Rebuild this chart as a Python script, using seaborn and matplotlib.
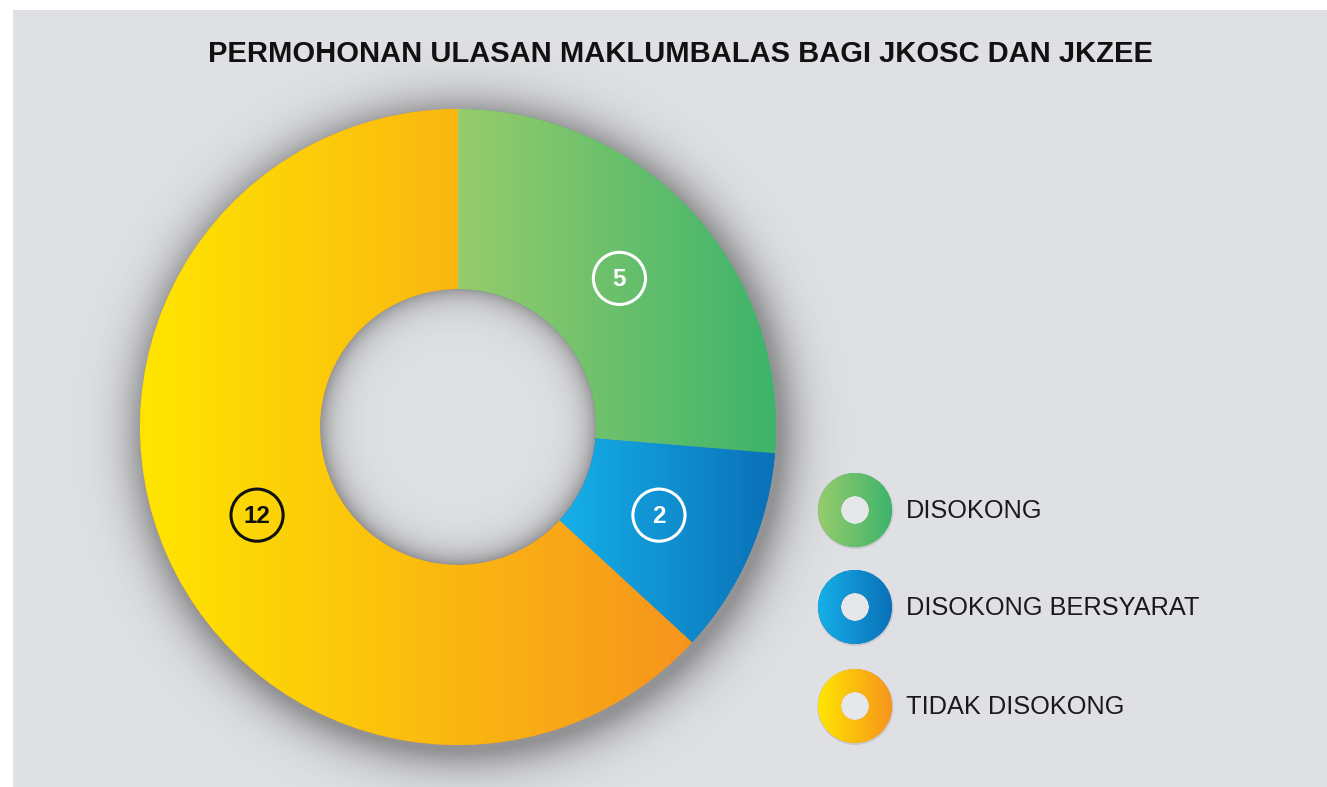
import numpy as np
import matplotlib.pyplot as plt
import seaborn as sns
from matplotlib.patches import Rectangle, Circle, Wedge

# data
categories = ['DISOKONG', 'DISOKONG BERSYARAT', 'TIDAK DISOKONG']
counts = [5, 2, 12]
label_colors = ['white', 'white', '#111111']
grad_left = ['#97cc6c', '#16b0e8', '#ffe600']
grad_right = ['#3db46b', '#0a70b8', '#f7941d']
title = 'PERMOHONAN ULASAN MAKLUMBALAS BAGI JKOSC DAN JKZEE'

sns.set_theme(style='white')
plt.rcParams['font.family'] = ['Liberation Sans', 'DejaVu Sans']

W, H = 1327, 787
BG = '#dfe0e3'
fig = plt.figure(figsize=(W / 100, H / 100), dpi=100, facecolor='white')
fig.add_artist(Rectangle((13 / W, 0), 1, (H - 10) / H, transform=fig.transFigure,
                         facecolor=BG, edgecolor='none', zorder=0))

# donut axes, placed in pixels
cx, cy, R = 458, 427, 318
L = 1.25
half = L * R
ax = fig.add_axes([(cx - half) / W, (H - cy - half) / H, 2 * half / W, 2 * half / H])
ax.set_axis_off()

rin = 138 / R
ring = 1 - rin

wedges, _ = ax.pie(counts, startangle=90, counterclock=False, radius=1,
                   colors=grad_right, wedgeprops=dict(width=ring, linewidth=0))

grad = np.linspace(0, 1, 256).reshape(1, -1)
cmaps = [sns.blend_palette([a, b], n_colors=256, as_cmap=True)
         for a, b in zip(grad_left, grad_right)]

for w, cmap in zip(wedges, cmaps):
    w.set_zorder(2)
    ext = w.get_path().get_extents()
    im = ax.imshow(grad, cmap=cmap, extent=[ext.x0, ext.x1, ext.y0, ext.y1],
                   aspect='auto', zorder=3, interpolation='bilinear')
    im.set_clip_path(w)

# soft shadow around the ring and inside the hole
n = 700
g = np.linspace(-L, L, n)
X, Y = np.meshgrid(g, g)
r = np.hypot(X, Y)
r_off = np.hypot(X - 0.012, Y + 0.02)
alpha = np.zeros_like(r)
out = r > 0.98
d = np.clip(r_off[out] - 1, 0, None)
alpha[out] = 0.50 * np.exp(-(d / 0.075) ** 1.3)
inn = r < rin + 0.01
alpha[inn] = 0.48 * np.exp(-np.clip(rin - r[inn], 0, None) / 0.045)
shadow = np.zeros((n, n, 4))
shadow[..., :3] = 0.28
shadow[..., 3] = alpha
ax.imshow(shadow, extent=[-L, L, -L, L], origin='lower', zorder=1, interpolation='bilinear')

# value labels in circles
for w, val, col in zip(wedges, counts, label_colors):
    ang = np.deg2rad((w.theta1 + w.theta2) / 2)
    x, y = 0.69 * np.cos(ang), 0.69 * np.sin(ang)
    ax.add_patch(Circle((x, y), 0.082, fill=False, ec=col, lw=2.2, zorder=5))
    ax.text(x, y - 0.005, str(val), ha='center', va='center', fontsize=17.5,
            fontweight='bold', color=col, zorder=6)

ax.set_xlim(-L, L)
ax.set_ylim(-L, L)
ax.set_aspect('equal')

fig.text(680 / W, 1 - 54 / H, title, ha='center', va='center', fontsize=21,
         fontweight='bold', color='#111111')

# legend with small ring icons
lax = fig.add_axes([0, 0, 1, 1])
lax.set_axis_off()
leg_y = [510, 607, 706]
for cat, cmap, c1, y in zip(categories, cmaps, grad_right, leg_y):
    lax.add_patch(Circle((855.5, y + 1), 38, fc='#b4b3b9', ec='none', alpha=0.5, zorder=1))
    rp = Wedge((855, y), 37, 0, 360, width=23, fc=c1, ec='none', zorder=2)
    lax.add_patch(rp)
    lax.add_patch(Circle((855, y), 14, fc='#e6e7e9', ec='none', zorder=1.5))
    im = lax.imshow(grad, cmap=cmap, extent=[818, 892, y + 37, y - 37],
                    aspect='auto', zorder=3, interpolation='bilinear')
    im.set_clip_path(rp)
    lax.text(906, y + 1, cat, fontsize=18.3, va='center', ha='left', color='#1a1a1a')
lax.set_xlim(0, W)
lax.set_ylim(H, 0)

fig.savefig('out.png', dpi=100, facecolor='white')
